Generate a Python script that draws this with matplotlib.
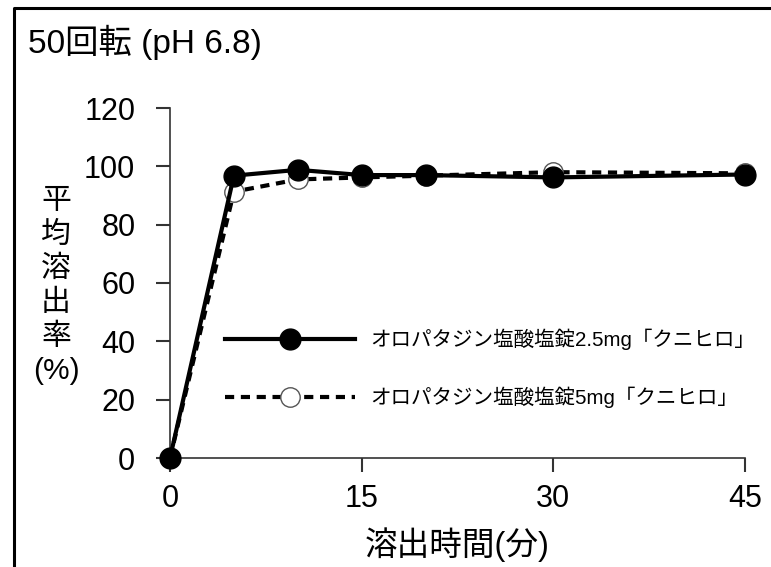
import matplotlib
matplotlib.use("Agg")
import matplotlib.pyplot as plt
from matplotlib.lines import Line2D

# dissolution profile, 50 rpm, pH 6.8
time_min = [0, 5, 10, 15, 20, 30, 45]
tab_25mg = [0, 96.8, 98.8, 97.0, 97.0, 96.2, 97.2]
tab_5mg = [0, 91.3, 95.5, 96.2, 96.8, 98.0, 97.6]
label_25mg = "オロパタジン塩酸塩錠2.5mg「クニヒロ」"
label_5mg = "オロパタジン塩酸塩錠5mg「クニヒロ」"
x_ticks = [0, 15, 30, 45]
y_ticks = [0, 20, 40, 60, 80, 100, 120]
title = "50回転 (pH 6.8)"
xlabel = "溶出時間(分)"
ylabel_chars = ["平", "均", "溶", "出", "率", "(%)"]

cjk = ["Liberation Sans", "Noto Sans CJK JP", "DejaVu Sans"]
plt.rcParams["font.family"] = cjk

W, H = 771, 567
fig = plt.figure(figsize=(W / 100, H / 100), dpi=100)
ax = fig.add_axes([170 / W, 1 - 458 / H, (745 - 170) / W, (458 - 108) / H])

# outer frame (only top and left edges fall inside the image)
fig.add_artist(Line2D([14 / W, 14 / W, 1.01], [-0.01, 1 - 8 / H, 1 - 8 / H],
                      transform=fig.transFigure, color="black", lw=2.2))

dash = (0, (2.2, 1.6))
ax.plot(time_min, tab_5mg, color="black", lw=3, ls=dash,
        marker="o", ms=14, mfc="white", mec="#555555", mew=1.0, zorder=3,
        clip_on=False)
ax.plot(time_min, tab_25mg, color="black", lw=3, ls="-",
        marker="o", ms=15, mfc="black", mec="black", zorder=4, clip_on=False)

ax.set_xlim(0, 45)
ax.set_ylim(0, 120)
ax.set_xticks(x_ticks)
ax.set_yticks(y_ticks)
for s in ["top", "right"]:
    ax.spines[s].set_visible(False)
for s in ["left", "bottom"]:
    ax.spines[s].set_linewidth(1.2)
    ax.spines[s].set_color("#333333")
ax.tick_params(axis="both", direction="out", length=10, width=1.5,
               color="#333333", labelsize=22)
ax.tick_params(axis="y", pad=15)
ax.tick_params(axis="x", pad=9)

fig.text(28 / W, 1 - 42 / H, title, fontsize=24, va="center", ha="left")
fig.text(457 / W, 1 - 545 / H, xlabel, fontsize=23.5, va="center", ha="center")
for i, ch in enumerate(ylabel_chars):
    fig.text(56 / W, 1 - (201 + 34 * i) / H, ch, fontsize=21.5, va="center",
             ha="center")

handles = [
    Line2D([], [], color="black", lw=3, marker="o", ms=15, mfc="black"),
    Line2D([], [], color="black", lw=3, ls=dash, marker="o", ms=14,
           mfc="white", mec="#555555", mew=1.0),
]
fig.legend(handles, [label_25mg, label_5mg], loc="upper left",
           bbox_to_anchor=(225 / W, 1 - 329 / H), frameon=False,
           prop={"size": 14.8},
           handlelength=6.3, handletextpad=0.75, labelspacing=1.75,
           numpoints=1, borderpad=0, borderaxespad=0)

fig.savefig("out.png", dpi=100, facecolor="white")
